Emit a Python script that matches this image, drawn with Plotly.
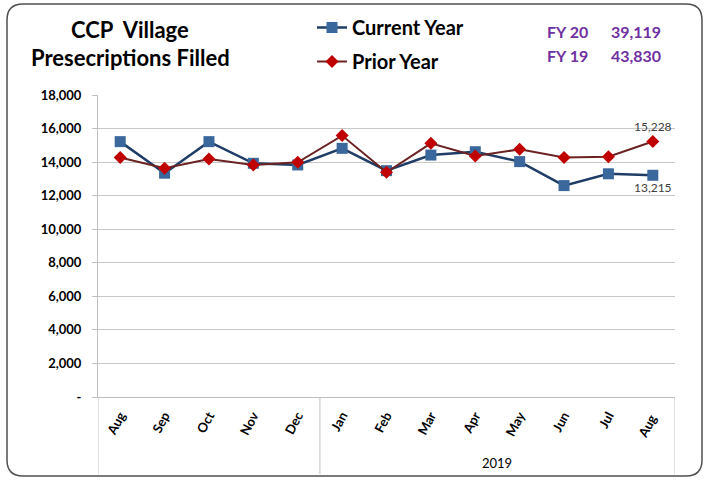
import plotly.graph_objects as go

months = ["Aug", "Sep", "Oct", "Nov", "Dec", "Jan", "Feb", "Mar", "Apr", "May", "Jun", "Jul", "Aug "]
current_year = [15220, 13340, 15220, 13930, 13830, 14820, 13490, 14420, 14620, 14030, 12600, 13304, 13215]
prior_year = [14270, 13630, 14190, 13830, 13990, 15580, 13390, 15120, 14360, 14760, 14280, 14322, 15228]
y_ticks = [0, 2000, 4000, 6000, 8000, 10000, 12000, 14000, 16000, 18000]
y_tick_text = ["-", "2,000", "4,000", "6,000", "8,000", "10,000", "12,000", "14,000", "16,000", "18,000"]
group_label = "2019"
fy_labels = ["FY 20", "FY 19"]
fy_values = ["39,119", "43,830"]

W, H = 708, 480
L, R, T, B = 98, 675, 95, 397
pw, ph = R - L, B - T
FONT = "Lato, sans-serif"


def px(x):
    return (x - L) / pw


def py(y):
    return (B - y) / ph


fig = go.Figure()
n = len(months)
cur_text = [""] * (n - 1) + [f"{current_year[-1]:,}"]
pri_text = [""] * (n - 1) + [f"{prior_year[-1]:,}"]

fig.add_trace(go.Scatter(
    x=months, y=current_year, name="<b>Current Year</b>", mode="lines+markers+text",
    line=dict(color="#1F3D66", width=2.5),
    marker=dict(symbol="square", size=11, color="#3A679C"),
    text=cur_text, textposition="bottom center",
    textfont=dict(family=FONT, size=12, color="#404040"),
    legendgroup="a",
))
fig.add_trace(go.Scatter(
    x=months, y=prior_year, name="<b>Prior Year</b>", mode="lines+markers+text",
    line=dict(color="#6B2222", width=2),
    marker=dict(symbol="diamond", size=10, color="#C00000"),
    text=pri_text, textposition="top center",
    textfont=dict(family=FONT, size=12, color="#404040"),
    legendgroup="b",
))

shapes = []
# outer rounded border
x0, x1, y0, y1 = px(7), px(702), py(476), py(4)
rx, ry = 16 / pw, 16 / ph
path = (f"M {x0+rx},{y1} L {x1-rx},{y1} Q {x1},{y1} {x1},{y1-ry} "
        f"L {x1},{y0+ry} Q {x1},{y0} {x1-rx},{y0} L {x0+rx},{y0} "
        f"Q {x0},{y0} {x0},{y0+ry} L {x0},{y1-ry} Q {x0},{y1} {x0+rx},{y1} Z")
shapes.append(dict(type="path", path=path, xref="paper", yref="paper",
                   line=dict(color="#505050", width=1.5), layer="below"))
# group dividers below axis
for xv in [-0.5, 4.5, n - 0.5]:
    shapes.append(dict(type="line", xref="x", yref="paper", x0=xv, x1=xv,
                       y0=0, y1=py(474), line=dict(color="#BFBFBF", width=1)))

annotations = [
    dict(text="<b>CCP\u00a0 Village</b>", x=px(130), y=py(30), xref="paper", yref="paper",
         xanchor="center", yanchor="middle",
         showarrow=False, font=dict(family=FONT, size=22, color="black")),
    dict(text="<b>Presecriptions Filled</b>", x=px(130), y=py(58), xref="paper", yref="paper",
         xanchor="center", yanchor="middle",
         showarrow=False, font=dict(family=FONT, size=22, color="black")),
    dict(text=group_label, x=(5 + n - 1) / 2, y=py(463), xref="x", yref="paper",
         xanchor="center", yanchor="middle",
         showarrow=False, font=dict(family=FONT, size=13, color="black")),
]
for i, (lab, val) in enumerate(zip(fy_labels, fy_values)):
    yy = py(32 + 23 * i)
    annotations.append(dict(text=f"<b>{lab}</b>", x=px(545), y=yy, xref="paper", yref="paper",
                            xanchor="left", yanchor="middle", showarrow=False,
                            font=dict(family=FONT, size=16, color="#7030A0")))
    annotations.append(dict(text=f"<b>{val}</b>", x=px(663), y=yy, xref="paper", yref="paper",
                            xanchor="right", yanchor="middle", showarrow=False,
                            font=dict(family=FONT, size=16, color="#7030A0")))

fig.update_layout(
    width=W, height=H,
    margin=dict(l=L, r=W - R, t=T, b=H - B, autoexpand=False),
    paper_bgcolor="white", plot_bgcolor="white",
    showlegend=True,
    legend=dict(x=px(312), y=py(8), xanchor="left", yanchor="top",
                traceorder="grouped", tracegroupgap=5,
                font=dict(family=FONT, size=20, color="black"),
                bgcolor="rgba(0,0,0,0)", itemwidth=30),
    shapes=shapes, annotations=annotations,
    xaxis=dict(type="category", tickangle=-62, showgrid=False, showline=True,
               linecolor="#BFBFBF", linewidth=1, ticks="",
               ticklabelstandoff=5,
               tickfont=dict(family=FONT, size=13, color="black", weight="bold"),
               range=[-0.5, n - 0.5]),
    yaxis=dict(range=[0, 18000], tickvals=y_ticks, ticktext=y_tick_text,
               showgrid=True, gridcolor="#C8C8C8", gridwidth=1,
               showline=True, linecolor="#BFBFBF", linewidth=1,
               ticks="outside", ticklen=5, tickcolor="#BFBFBF",
               ticklabelstandoff=8, zeroline=False,
               tickfont=dict(family=FONT, size=13, color="black", weight="bold")),
    font=dict(family=FONT),
)

fig.write_html("out.html", config={"displayModeBar": False},
               post_script="document.body.style.margin='0px';")
